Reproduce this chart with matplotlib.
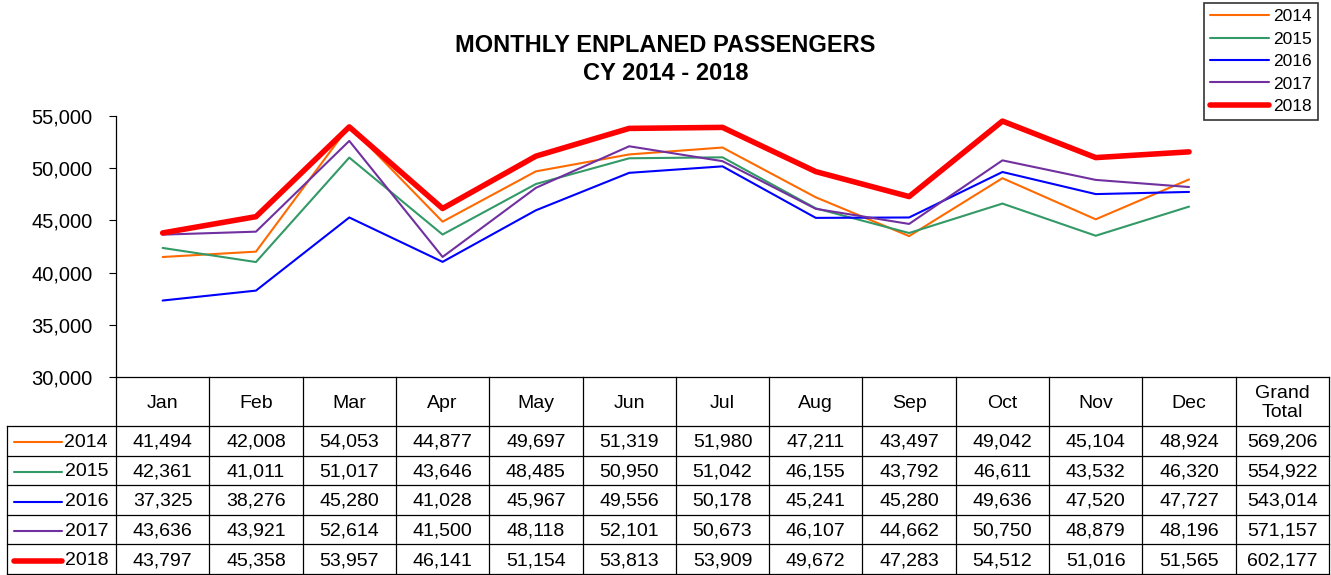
import matplotlib
matplotlib.use("Agg")
import matplotlib.pyplot as plt
from matplotlib.ticker import FuncFormatter

plt.rcParams['font.family'] = ['Liberation Sans', 'DejaVu Sans']

MONTHS = ["Jan", "Feb", "Mar", "Apr", "May", "Jun", "Jul", "Aug", "Sep", "Oct", "Nov", "Dec"]
YEARS = ["2014", "2015", "2016", "2017", "2018"]

v2014 = [41494, 42008, 54053, 44877, 49697, 51319, 51980, 47211, 43497, 49042, 45104, 48924]
v2015 = [42361, 41011, 51017, 43646, 48485, 50950, 51042, 46155, 43792, 46611, 43532, 46320]
v2016 = [37325, 38276, 45280, 41028, 45967, 49556, 50178, 45241, 45280, 49636, 47520, 47727]
v2017 = [43636, 43921, 52614, 41500, 48118, 52101, 50673, 46107, 44662, 50750, 48879, 48196]
v2018 = [43797, 45358, 53957, 46141, 51154, 53813, 53909, 49672, 47283, 54512, 51016, 51565]
TOTALS = [569206, 554922, 543014, 571157, 602177]

SERIES = [v2014, v2015, v2016, v2017, v2018]
COLORS = ["#FF6A00", "#339966", "#0000FF", "#7030A0", "#FF0000"]
WIDTHS = [1.5, 1.5, 1.5, 1.5, 4.0]

W, H = 1331, 575
fig = plt.figure(figsize=(W / 100, H / 100), dpi=100)

x_left, x_right = 116, 1329
y_top, y_bottom = 116, 377
ax = fig.add_axes([x_left / W, 1 - y_bottom / H, (x_right - x_left) / W, (y_bottom - y_top) / H])

x = list(range(len(MONTHS)))
for yr, vals, c, lw in zip(YEARS, SERIES, COLORS, WIDTHS):
    ax.plot(x, vals, color=c, linewidth=lw, label=yr, solid_capstyle="round")

ax.set_xlim(-0.5, 12.5)
ax.set_ylim(30000, 55000)
ax.set_yticks([30000, 35000, 40000, 45000, 50000, 55000])
ax.yaxis.set_major_formatter(FuncFormatter(lambda v, p: f"{int(v):,}"))
ax.tick_params(axis="y", labelsize=14.5, length=5, width=0.8, direction="out", pad=12)
ax.set_xticks([])
for s in ["top", "right", "bottom"]:
    ax.spines[s].set_visible(False)
ax.spines["left"].set_linewidth(0.9)

fig.text(0.5, 1 - 45 / H, "MONTHLY ENPLANED PASSENGERS", ha="center", va="center",
         fontsize=17, fontweight="bold")
fig.text(0.5, 1 - 73 / H, "CY 2014 - 2018", ha="center", va="center",
         fontsize=17, fontweight="bold")

# legend box (top right)
leg = fig.legend(loc="upper right", bbox_to_anchor=(1318 / W, 1 - 3 / H), fontsize=12.5,
                 frameon=True, fancybox=False, edgecolor="black", handlelength=3.4,
                 handletextpad=0.25, labelspacing=0.42, borderpad=0.35, borderaxespad=0)
leg.get_frame().set_linewidth(1.2)

# data table below the plot
tax = fig.add_axes([x_left / W, 0, (x_right - x_left) / W, (H - y_bottom) / H])
tax.set_xlim(-0.5, 12.5)
tax.set_ylim(H - y_bottom, 0)
tax.set_axis_off()

col_w = (x_right - x_left) / 13.0
lab_left = -0.5 - (x_left - 7) / col_w
hdr_h = 49
row_h = 29.6
n_rows = len(YEARS)
bottom = hdr_h + n_rows * row_h
lc = "black"
lw_tbl = 0.9

tax.plot([-0.5, 12.5], [0, 0], color=lc, lw=lw_tbl, clip_on=False)
for r in range(n_rows + 1):
    yy = hdr_h + r * row_h
    tax.plot([lab_left, 12.5], [yy, yy], color=lc, lw=lw_tbl, clip_on=False)
for k in range(14):
    xx = -0.5 + k
    tax.plot([xx, xx], [0, bottom], color=lc, lw=lw_tbl, clip_on=False)
tax.plot([lab_left, lab_left], [hdr_h, bottom], color=lc, lw=lw_tbl, clip_on=False)

headers = MONTHS + ["Grand\nTotal"]
for k, h in enumerate(headers):
    tax.text(k, hdr_h / 2 + 1.5, h, ha="center", va="center", fontsize=14, linespacing=1.1)

for r, (yr, vals, c, lw, tot) in enumerate(zip(YEARS, SERIES, COLORS, WIDTHS, TOTALS)):
    yc = hdr_h + (r + 0.5) * row_h + 1.5
    tax.plot([lab_left + 7 / col_w, lab_left + 55 / col_w], [yc, yc], color=c, lw=lw,
             solid_capstyle="round", clip_on=False)
    tax.text(-0.5 - 8 / col_w, yc, yr, ha="right", va="center", fontsize=14)
    for k, v in enumerate(vals + [tot]):
        tax.text(k, yc, f"{v:,}", ha="center", va="center", fontsize=14)

fig.savefig("out.png", dpi=100)
